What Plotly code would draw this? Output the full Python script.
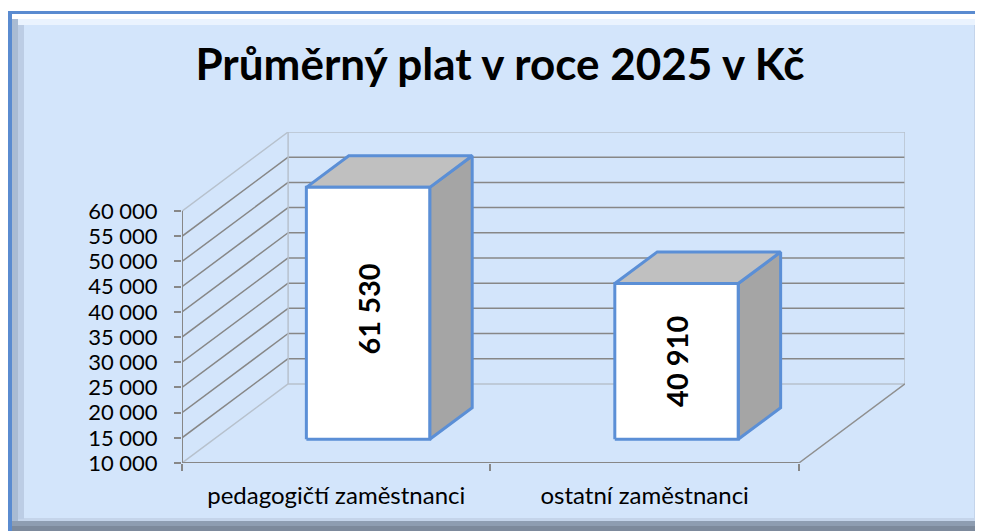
import plotly.graph_objects as go

# ---------------- data ----------------
TITLE = "Průměrný plat v roce 2025 v Kč"
CATEGORIES = ["pedagogičtí zaměstnanci", "ostatní zaměstnanci"]
VALUES = [61530, 40910]
Y_TICKS = [10000, 15000, 20000, 25000, 30000, 35000, 40000, 45000, 50000, 55000, 60000]
Y_TICK_LABELS = ["10 000", "15 000", "20 000", "25 000", "30 000", "35 000",
                 "40 000", "45 000", "50 000", "55 000", "60 000"]

def fmt(v):
    return f"{v:,}".replace(",", " ")

# ---------------- style / geometry ----------------
OFF = 8                 # page body margin
W, H = 983 - OFF, 531 - OFF
L, R, T, B = 182 - OFF, 78, 132 - OFF, 68
PW, PH = W - L - R, H - T - B

Y_MIN, Y_MAX = Y_TICKS[0], Y_TICKS[-1]
N = len(CATEGORIES)
DX = 0.344      # depth offset of the back wall, in category units
DY = 15700      # depth offset of the back wall, in value units
D1, D2 = 0.3, 0.7   # bar front / back depth
BAR_W = 0.4

FONT = "Lato"
BG = "#d3e5fb"
GRID = "#878787"
EDGE = "#b7c1cd"
BAR_LINE = "#5b8fd6"
TOP_FILL = "#c0c0c0"
SIDE_FILL = "#a5a5a5"

def P(x, y, d):
    return x + d * DX, y + d * DY

fig = go.Figure()

def add_lines(segments, color, width):
    xs, ys = [], []
    for a, b in segments:
        xs += [a[0], b[0], None]
        ys += [a[1], b[1], None]
    fig.add_trace(go.Scatter(x=xs, y=ys, mode="lines", line=dict(color=color, width=width),
                             hoverinfo="skip", showlegend=False))

x_left, x_right = -0.5, N - 0.5
inner = Y_TICKS[1:-1]

# back wall gridlines
add_lines([(P(x_left, v, 1), P(x_right, v, 1)) for v in inner], GRID, 1.5)
# side wall gridlines
add_lines([(P(x_left, v, 0), P(x_left, v, 1)) for v in inner], GRID, 1.5)
# wall edges (light)
edges = [
    (P(x_left, Y_MAX, 0), P(x_left, Y_MAX, 1)),
    (P(x_left, Y_MAX, 1), P(x_right, Y_MAX, 1)),
    (P(x_left, Y_MIN, 1), P(x_right, Y_MIN, 1)),
    (P(x_left, Y_MIN, 0), P(x_left, Y_MIN, 1)),
    (P(x_left, Y_MIN, 1), P(x_left, Y_MAX, 1)),
    (P(x_right, Y_MIN, 1), P(x_right, Y_MAX, 1)),
]
add_lines(edges, EDGE, 1.5)
# floor right edge
add_lines([(P(x_right, Y_MIN, 0), P(x_right, Y_MIN, 1))], "#8f8f8f", 1.5)
# axis lines
add_lines([(P(x_left, Y_MIN, 0), P(x_left, Y_MAX, 0)),
           (P(x_left, Y_MIN, 0), P(x_right, Y_MIN, 0))], GRID, 2)

# bars
def face(pts, fill):
    xs = [p[0] for p in pts] + [pts[0][0]]
    ys = [p[1] for p in pts] + [pts[0][1]]
    fig.add_trace(go.Scatter(x=xs, y=ys, mode="lines", fill="toself", fillcolor=fill,
                             line=dict(color=BAR_LINE, width=3), hoverinfo="skip",
                             showlegend=False))

for i, v in enumerate(VALUES):
    top = min(v, Y_MAX)
    x0, x1 = i - BAR_W / 2, i + BAR_W / 2
    face([P(x1, Y_MIN, D1), P(x1, Y_MIN, D2), P(x1, top, D2), P(x1, top, D1)], SIDE_FILL)
    face([P(x0, top, D1), P(x1, top, D1), P(x1, top, D2), P(x0, top, D2)], TOP_FILL)
    face([P(x0, Y_MIN, D1), P(x1, Y_MIN, D1), P(x1, top, D1), P(x0, top, D1)], "white")
    lx, ly = P(i, (Y_MIN + v) / 2, D1)
    fig.add_annotation(x=lx, y=ly, text=fmt(v), textangle=-90, showarrow=False,
                       font=dict(family=FONT, size=29, color="black", weight="bold"))

# frame (decoration), given in reference-page pixel coordinates
def px(xp):
    return (xp - OFF - L) / PW

def py(yp):
    return (H - B - (yp - OFF)) / PH

def rect(x0, y0, x1, y1, color):
    fig.add_shape(type="rect", xref="paper", yref="paper", layer="below",
                  x0=px(x0), x1=px(x1), y0=py(y1), y1=py(y0),
                  fillcolor=color, line=dict(width=0))

rect(8, 11, 983, 531, "#5a8bd0")
rect(12, 14, 983, 531, "#9fb0c6")
rect(12, 14, 978, 521, "#c4d4ea")
rect(12, 14, 978, 19, "#ffffff")
rect(15, 19, 976, 25, "#eaf3fe")
rect(12, 19, 18, 521, "#a9bbd3")
rect(18, 25, 24, 519, "#bccde5")
rect(12, 521, 983, 526, "#8e9db1")
rect(12, 526, 983, 531, "#7d8a9c")
rect(976, 14, 983, 521, "#aebfd6")
rect(24, 25, 974, 518, BG)

fig.update_layout(
    width=W, height=H,
    margin=dict(l=L, r=R, t=T, b=B),
    paper_bgcolor="white",
    plot_bgcolor="rgba(0,0,0,0)",
    showlegend=False,
    title=dict(text=TITLE, x=(500 - OFF) / W, xanchor="center",
               y=1 - (65 - OFF) / H, yanchor="middle",
               yref="container", xref="container",
               font=dict(family=FONT, size=44, color="black", weight="bold")),
    xaxis=dict(range=[x_left, x_right + DX], tickvals=list(range(N)), ticktext=CATEGORIES,
               ticks="", showgrid=False, zeroline=False, showline=False,
               tickfont=dict(family=FONT, size=24, color="black"),
               ticklabelstandoff=16,
               minor=dict(tickmode="array", tickvals=[k - 0.5 for k in range(N + 1)],
                          ticks="outside", ticklen=7, tickcolor=GRID, tickwidth=2,
                          showgrid=False),
               fixedrange=True),
    yaxis=dict(range=[Y_MIN, Y_MAX + DY], tickvals=Y_TICKS, ticktext=Y_TICK_LABELS,
               ticks="outside", ticklen=7, tickcolor=GRID, tickwidth=2,
               showgrid=False, zeroline=False, showline=False,
               tickfont=dict(family=FONT, size=22, color="black"),
               ticklabelstandoff=12, fixedrange=True),
)

fig.write_html("out.html")
